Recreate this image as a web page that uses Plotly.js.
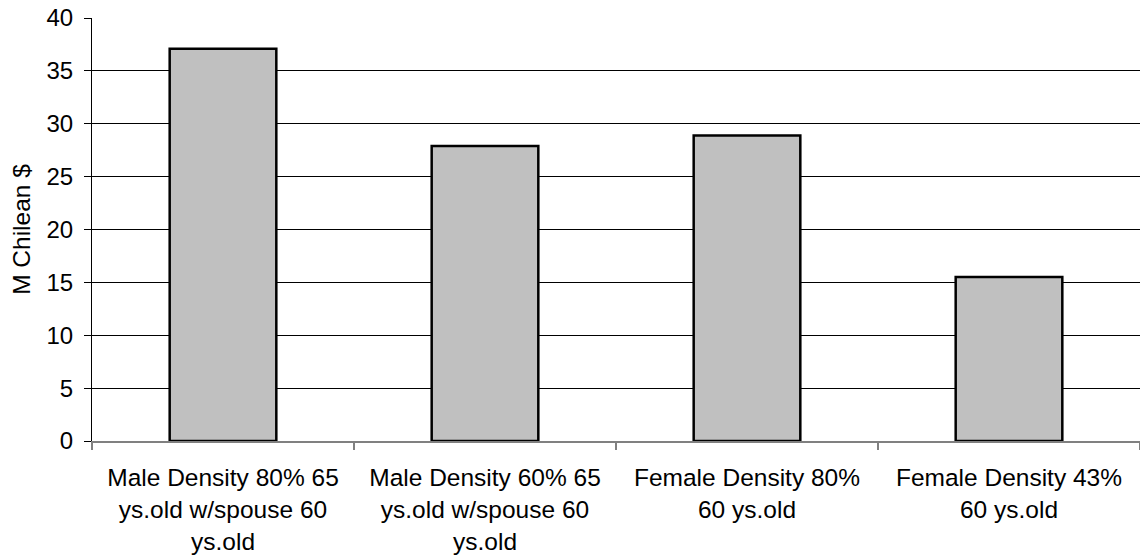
<!DOCTYPE html>
<html>
<head>
<meta charset="utf-8">
<script src="https://cdn.plot.ly/plotly-3.0.1.min.js"></script>
<style>html,body{margin:0;padding:0;background:#fff;}#chart{width:1140px;height:559px;}</style>
</head>
<body>
<div id="chart"></div>
<script>
const categories = [
  "Male Density 80% 65<br>ys.old w/spouse 60<br>ys.old",
  "Male Density 60% 65<br>ys.old w/spouse 60<br>ys.old",
  "Female Density 80%<br>60 ys.old",
  "Female Density 43%<br>60 ys.old"
];
const values = [37.1, 27.9, 28.9, 15.5];
const yTickVals = [0, 5, 10, 15, 20, 25, 30, 35, 40];
const yTitle = "M Chilean $";

const font = {family: "Liberation Sans, Arial, sans-serif", size: 24.5, color: "#000"};
const yFont = {family: "Liberation Sans, Arial, sans-serif", size: 24, color: "#000"};

Plotly.newPlot("chart", [{
  type: "bar",
  x: categories,
  y: values,
  marker: {color: "#C0C0C0", line: {color: "#000", width: 2.5}},
  hoverinfo: "none"
}], {
  width: 1140, height: 559,
  margin: {l: 92, r: 0, t: 18, b: 118},
  paper_bgcolor: "#fff", plot_bgcolor: "#fff",
  bargap: 0.593,
  font: font,
  showlegend: false,
  xaxis: {
    type: "category",
    range: [-0.5, 3.5],
    tickson: "boundaries",
    ticks: "outside", ticklen: 7, tickcolor: "#808080", tickwidth: 1.5,
    ticklabelstandoff: 14,
    showgrid: false,
    showline: true, linecolor: "#808080", linewidth: 1.5,
    tickfont: font,
    zeroline: false
  },
  yaxis: {
    range: [0, 40],
    tickvals: yTickVals,
    ticktext: yTickVals.map(String),
    ticks: "outside", ticklen: 7, tickcolor: "#000", tickwidth: 1,
    ticklabelstandoff: 6,
    showgrid: true, gridcolor: "#000", gridwidth: 1,
    showline: true, linecolor: "#000", linewidth: 1,
    zeroline: false,
    tickfont: yFont,
    title: {text: yTitle, font: font, standoff: 8}
  }
}, {staticPlot: true});
</script>
</body>
</html>
